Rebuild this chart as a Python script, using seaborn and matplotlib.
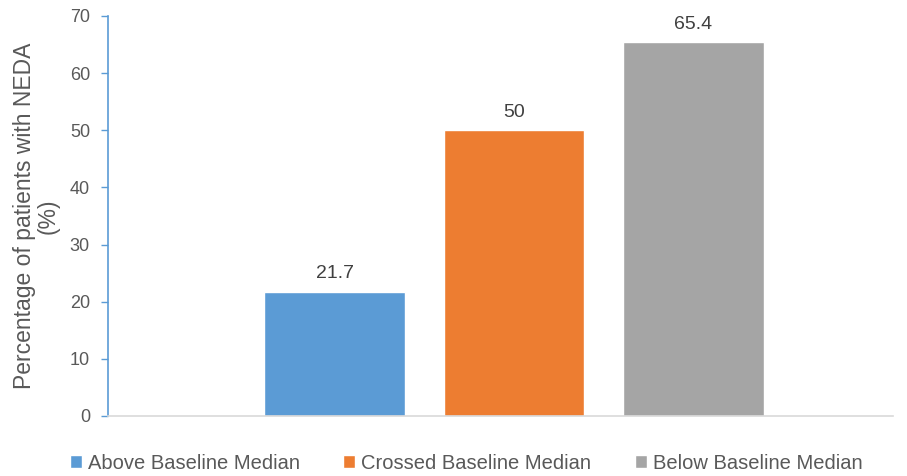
import matplotlib
matplotlib.use("Agg")
import matplotlib.pyplot as plt
import seaborn as sns
import pandas as pd

groups = ["Above Baseline Median", "Crossed Baseline Median", "Below Baseline Median"]
values = [21.7, 50, 65.4]
value_labels = ["21.7", "50", "65.4"]
colors = ["#5B9BD5", "#ED7D31", "#A5A5A5"]
y_ticks = [0, 10, 20, 30, 40, 50, 60, 70]

df = pd.DataFrame({"cat": ["all"] * 3, "group": groups, "value": values})

sns.set_theme(style="white")
plt.rcParams["font.family"] = ["Liberation Sans", "DejaVu Sans"]
text_color = "#595959"

fig = plt.figure(figsize=(9.07, 4.76), dpi=100)
ax = fig.add_axes([108 / 907, 60 / 476, 785 / 907, 400 / 476])

sns.barplot(data=df, x="cat", y="value", hue="group", hue_order=groups,
            palette=colors, gap=0.215, saturation=1, ax=ax, legend=True)

for cont, lab in zip(ax.containers, value_labels):
    ax.bar_label(cont, labels=[lab], padding=7, fontsize=14, color="#404040")

ax.set_ylim(0, 70)
ax.set_yticks(y_ticks)
ax.set_xlim(-0.604, 0.564)
ax.set_xticks([])
ax.set_xlabel("")
ax.set_ylabel("Percentage of patients with NEDA\n(%)", fontsize=16.5,
              color=text_color, linespacing=1.05)
ax.yaxis.set_label_coords(-0.061, 0.5)
ax.tick_params(axis="y", labelsize=13, colors=text_color, length=5,
               width=1, direction="out", left=True, color="#5B9BD5", pad=8)
for t in ax.get_yticklabels():
    t.set_color(text_color)

for s in ["top", "right"]:
    ax.spines[s].set_visible(False)
ax.spines["left"].set_color("#5B9BD5")
ax.spines["left"].set_linewidth(1.2)
ax.spines["bottom"].set_color("#D9D9D9")
ax.spines["bottom"].set_linewidth(1.2)

handles, labels = ax.get_legend_handles_labels()
ax.legend(handles, labels, loc="center", bbox_to_anchor=(0.456, -0.118),
          ncol=3, frameon=False, fontsize=14.5, handlelength=0.6, handleheight=0.6,
          handletextpad=0.3, columnspacing=2.15, labelcolor=text_color,
          borderpad=0, borderaxespad=0)

fig.savefig("out.png", dpi=100)
